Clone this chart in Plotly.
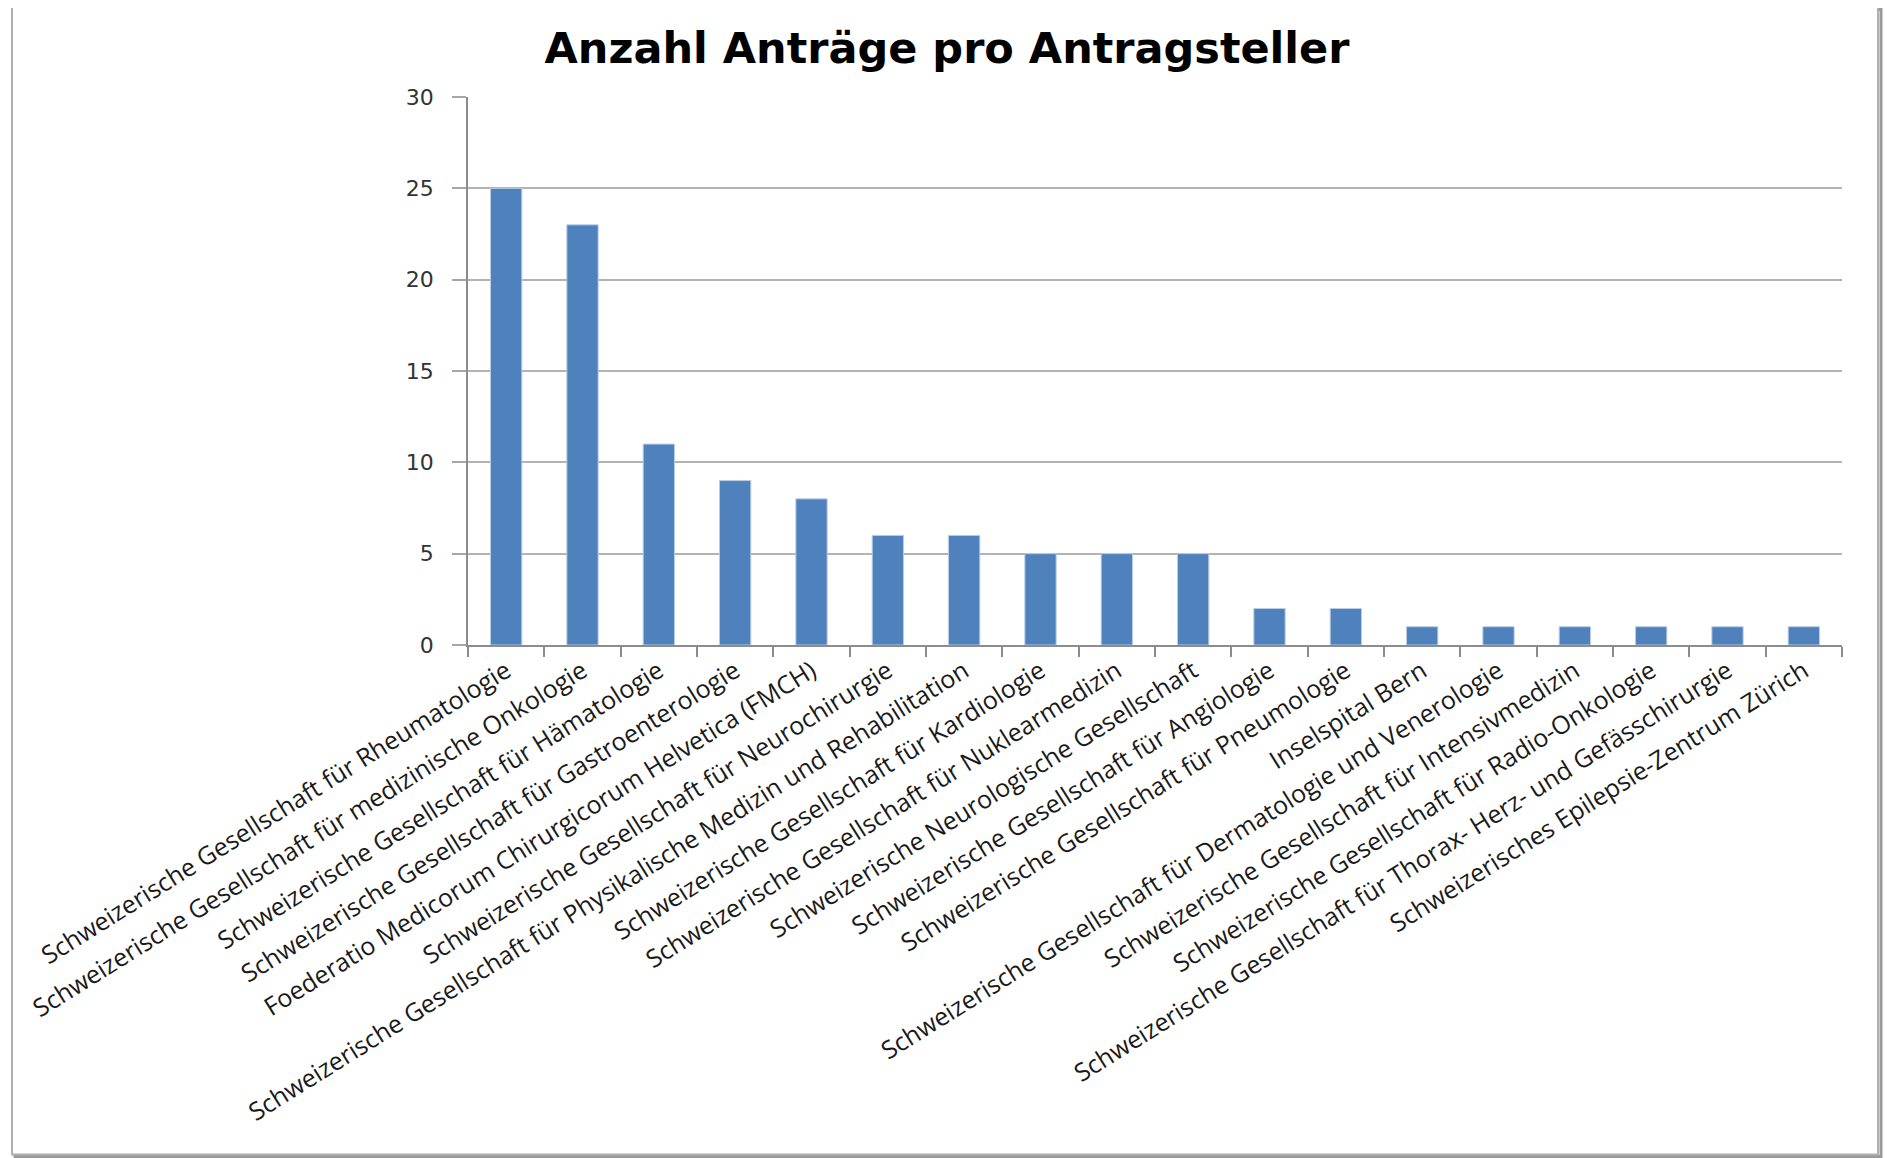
import plotly.graph_objects as go

categories = [
    "Schweizerische Gesellschaft für Rheumatologie",
    "Schweizerische Gesellschaft für medizinische Onkologie",
    "Schweizerische Gesellschaft für Hämatologie",
    "Schweizerische Gesellschaft für Gastroenterologie",
    "Foederatio Medicorum Chirurgicorum Helvetica (FMCH)",
    "Schweizerische Gesellschaft für Neurochirurgie",
    "Schweizerische Gesellschaft für Physikalische Medizin und Rehabilitation",
    "Schweizerische Gesellschaft für Kardiologie",
    "Schweizerische Gesellschaft für Nuklearmedizin",
    "Schweizerische Neurologische Gesellschaft",
    "Schweizerische Gesellschaft für Angiologie",
    "Schweizerische Gesellschaft für Pneumologie",
    "Inselspital Bern",
    "Schweizerische Gesellschaft für Dermatologie und Venerologie",
    "Schweizerische Gesellschaft für Intensivmedizin",
    "Schweizerische Gesellschaft für Radio-Onkologie",
    "Schweizerische Gesellschaft für Thorax- Herz- und Gefässchirurgie",
    "Schweizerisches Epilepsie-Zentrum Zürich",
]
values = [25, 23, 11, 9, 8, 6, 6, 5, 5, 5, 2, 2, 1, 1, 1, 1, 1, 1]
y_ticks = [0, 5, 10, 15, 20, 25, 30]

OFF = 8  # page body margin in the browser
W, H = 1891 - OFF, 1158 - OFF
L, R, T, B = 468 - OFF, 1842 - OFF, 96.5 - OFF, 645 - OFF
pw, ph = R - L, B - T

def px(x):
    return (x - OFF - L) / pw

def py(y):
    return (B - (y - OFF)) / ph

fig = go.Figure(go.Bar(
    x=categories, y=values,
    marker=dict(color="#4F81BD", line=dict(color="#B9CDE5", width=1)),
))

fig.update_layout(
    width=W, height=H,
    margin=dict(l=L, r=W - R, t=T, b=H - B, pad=0),
    paper_bgcolor="white", plot_bgcolor="white",
    bargap=0.59,
    showlegend=False,
    title=dict(
        text="<b>Anzahl Anträge pro Antragsteller</b>",
        font=dict(family="DejaVu Sans", size=43, color="#000000"),
        x=(947 - OFF) / W, xref="container", y=1 - (48 - OFF) / H, yref="container",
        xanchor="center", yanchor="middle",
    ),
    xaxis=dict(
        type="category",
        tickangle=-32,
        tickson="boundaries",
        ticks="outside", ticklen=10, tickcolor="#8c8c8c", tickwidth=1.5,
        showline=True, linecolor="#8c8c8c", linewidth=1.5,
        showgrid=False,
        tickfont=dict(family="Open Sans", size=25, color="#1a1a1a"),
        automargin=False,
    ),
    yaxis=dict(
        range=[0, 30],
        tickvals=y_ticks,
        ticks="outside", ticklen=14, tickcolor="#a6a6a6", tickwidth=1.5,
        showline=True, linecolor="#8c8c8c", linewidth=1.5,
        showgrid=True, gridcolor="#b3b3b3", gridwidth=1.5,
        zeroline=False,
        ticklabelstandoff=14,
        tickfont=dict(family="DejaVu Sans", size=22, color="#333333"),
        automargin=False,
    ),
    shapes=[
        # shadow
        dict(type="rect", xref="paper", yref="paper",
             x0=px(15), x1=px(1881), y0=py(9), y1=py(1157),
             line=dict(color="#9a9a9a", width=3), layer="below"),
        # frame
        dict(type="rect", xref="paper", yref="paper",
             x0=px(12), x1=px(1878), y0=py(6), y1=py(1155),
             line=dict(color="#b0b0b0", width=2), fillcolor="white", layer="below"),
    ],
)

fig.write_html("out.html")
